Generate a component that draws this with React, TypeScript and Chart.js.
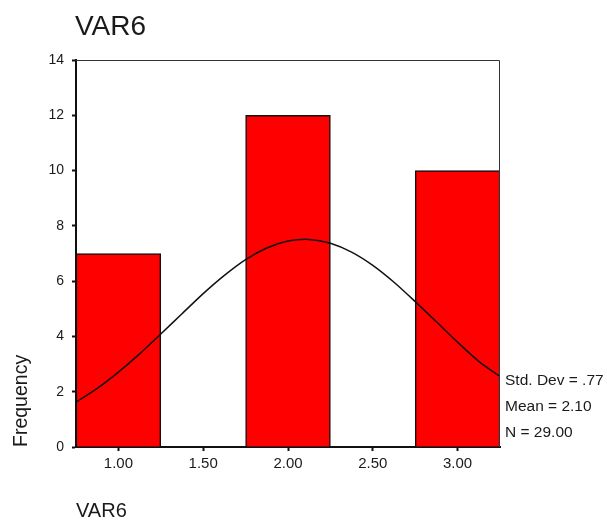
import React, { useEffect, useRef } from "react";
import { Chart, registerables } from "chart.js";

Chart.register(...registerables);

const TITLE = "VAR6";
const X_LABEL = "VAR6";
const Y_LABEL = "Frequency";
const BIN_CENTERS = [1.0, 2.0, 3.0];
const FREQUENCIES = [7, 12, 10];
const X_TICKS = [1.0, 1.5, 2.0, 2.5, 3.0];
const Y_TICKS = [0, 2, 4, 6, 8, 10, 12, 14];
const CURVE_X = [0.75, 0.875, 1.0, 1.125, 1.25, 1.375, 1.5, 1.625, 1.75, 1.875, 2.0, 2.125, 2.25, 2.375, 2.5, 2.625, 2.75, 2.875, 3.0, 3.125, 3.25];
const CURVE_Y = [1.62, 2.12, 2.71, 3.37, 4.09, 4.82, 5.55, 6.21, 6.78, 7.2, 7.45, 7.51, 7.37, 7.05, 6.57, 5.96, 5.26, 4.53, 3.79, 3.1, 2.55];
const STATS = ["Std. Dev = .77", "Mean = 2.10", "N = 29.00"];

const FONT = '"Liberation Sans", Arial, sans-serif';
const TEXT = "#1a1a1a";

export default function App() {
  const ref = useRef<HTMLCanvasElement>(null);

  useEffect(() => {
    const canvas = ref.current;
    if (!canvas) return;

    const textPlugin = {
      id: "spssText",
      afterDraw(chart: any) {
        const ctx = chart.ctx;
        const area = chart.chartArea;
        ctx.save();
        // frame
        ctx.strokeStyle = "#333";
        ctx.lineWidth = 1;
        ctx.beginPath();
        ctx.moveTo(area.left, area.top + 0.5);
        ctx.lineTo(area.right - 0.5, area.top + 0.5);
        ctx.lineTo(area.right - 0.5, area.bottom);
        ctx.stroke();
        // title
        ctx.fillStyle = TEXT;
        ctx.font = `28px ${FONT}`;
        ctx.textAlign = "left";
        ctx.textBaseline = "alphabetic";
        ctx.fillText(TITLE, 75, 35);
        // stats
        ctx.font = `15.5px ${FONT}`;
        ctx.textBaseline = "middle";
        STATS.forEach((s, i) => {
          ctx.fillText(s, area.right + 5, 381 + i * 26);
        });
        ctx.restore();
      },
    };

    const chart = new Chart(canvas, {
      type: "bar",
      data: {
        datasets: [
          {
            type: "line",
            data: CURVE_X.map((x, i) => ({ x, y: CURVE_Y[i] })),
            borderColor: "#111",
            borderWidth: 1.5,
            pointRadius: 0,
            tension: 0.3,
            fill: false,
            order: 0,
          } as any,
          {
            type: "bar",
            data: BIN_CENTERS.map((x, i) => ({ x, y: FREQUENCIES[i] })),
            backgroundColor: "#ff0000",
            borderColor: "#111",
            borderWidth: 1.5,
            barPercentage: 1,
            categoryPercentage: 1,
            order: 1,
          } as any,
        ],
      },
      options: {
        responsive: false,
        animation: false,
        layout: { padding: { top: 60, right: 107, left: 0, bottom: 0 } },
        plugins: {
          legend: { display: false },
          tooltip: { enabled: false },
          title: { display: false },
        },
        scales: {
          x: {
            type: "linear",
            min: 0.75,
            max: 3.25,
            offset: false,
            afterFit: (s: any) => {
              s.height = 79;
            },
            afterBuildTicks: (s: any) => {
              s.ticks = X_TICKS.map((v) => ({ value: v }));
            },
            grid: {
              display: true,
              offset: false,
              drawOnChartArea: false,
              drawTicks: true,
              tickLength: 4,
              tickWidth: 2,
              tickColor: "#111",
            },
            border: { display: true, color: "#111", width: 2 },
            ticks: {
              color: TEXT,
              font: { family: FONT, size: 15 },
              padding: 4,
              maxRotation: 0,
              autoSkip: false,
              callback: (v: any) => Number(v).toFixed(2),
            },
            title: {
              display: true,
              text: X_LABEL,
              align: "start",
              color: TEXT,
              font: { family: FONT, size: 20 },
              padding: { top: 0, bottom: 3 },
            },
          },
          y: {
            type: "linear",
            min: 0,
            max: 14,
            afterFit: (s: any) => {
              s.width = 76;
            },
            afterBuildTicks: (s: any) => {
              s.ticks = Y_TICKS.map((v) => ({ value: v }));
            },
            grid: {
              display: true,
              drawOnChartArea: false,
              drawTicks: true,
              tickLength: 4,
              tickWidth: 2,
              tickColor: "#111",
            },
            border: { display: true, color: "#111", width: 2 },
            ticks: {
              color: TEXT,
              font: { family: FONT, size: 14 },
              padding: 8,
              autoSkip: false,
            },
            title: {
              display: true,
              text: Y_LABEL,
              align: "start",
              color: TEXT,
              font: { family: FONT, size: 19.5 },
              padding: { top: 10, bottom: 0 },
            },
          },
        },
      },
      plugins: [textPlugin],
    } as any);

    return () => chart.destroy();
  }, []);

  return (
    <div style={{ position: "fixed", left: 0, top: 0, width: 607, height: 526, background: "#fff" }}>
      <canvas ref={ref} width={607} height={526} style={{ display: "block" }} />
    </div>
  );
}
